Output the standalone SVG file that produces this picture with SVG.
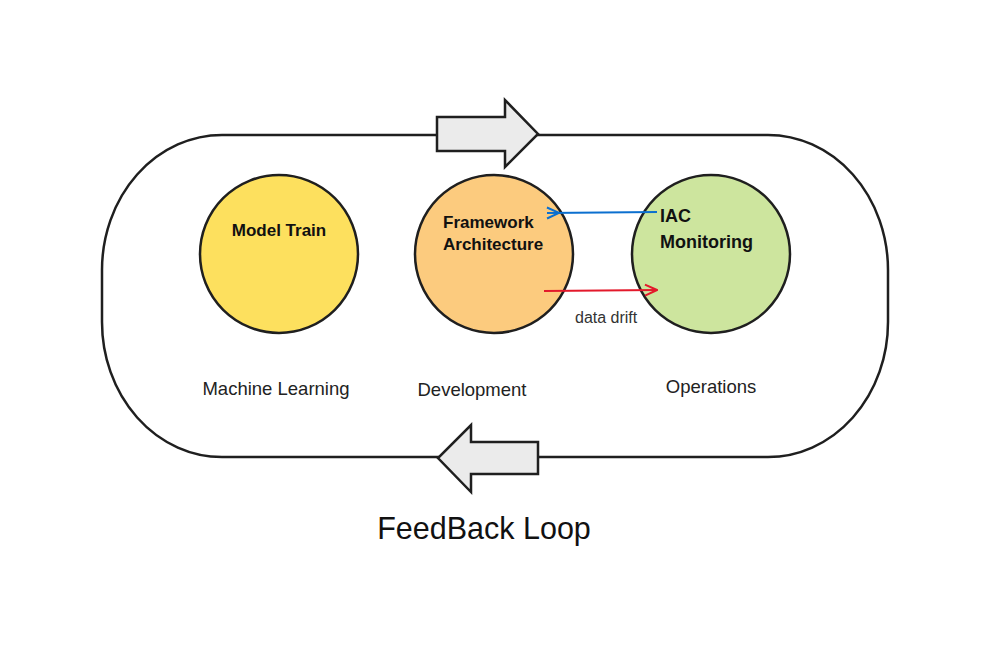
<svg xmlns="http://www.w3.org/2000/svg" width="989" height="665" viewBox="0 0 989 665">
<defs>
<style>
.stroke{stroke:#1f1f1f;stroke-width:2.5;}
.bold{font-family:"Liberation Sans",Arial,sans-serif;font-weight:bold;font-size:17px;fill:#111;}
.lbl{font-family:"Liberation Sans",Arial,sans-serif;font-size:18.5px;fill:#222;}
.big{font-family:"Liberation Sans",Arial,sans-serif;font-size:30.5px;fill:#111;}
.small{font-family:"Liberation Sans",Arial,sans-serif;font-size:16px;fill:#333;}
.bigarrow{fill:#ebebeb;stroke:#1f1f1f;stroke-width:2.5;stroke-linejoin:miter;}
</style>
<marker id="headBlue" viewBox="0 0 14 14" refX="13" refY="7" markerWidth="14" markerHeight="14" markerUnits="userSpaceOnUse" orient="auto">
<path d="M13,1.5 L1,7 L13,12.5" fill="none" stroke="#0b6fcf" stroke-width="2"/>
</marker>
<marker id="headRed" viewBox="0 0 14 14" refX="13" refY="7" markerWidth="14" markerHeight="14" markerUnits="userSpaceOnUse" orient="auto">
<path d="M1,1.5 L13,7 L1,12.5" fill="none" stroke="#e3192b" stroke-width="2"/>
</marker>
</defs>
<rect width="989" height="665" fill="#ffffff"/>
<g id="loop">
<rect x="102" y="135" width="786" height="322" rx="120" ry="135" fill="none" class="stroke"/>
</g>
<g id="arrow-top">
<polygon class="bigarrow" points="437,117 505,117 505,100 538,134 505,167 505,151 437,151"/>
</g>
<g id="arrow-bottom">
<polygon class="bigarrow" points="538,442 471,442 471,425 438,458 471,492 471,474 538,474"/>
</g>
<g id="model-train">
<circle cx="279" cy="254" r="79" fill="#fde05e" class="stroke"/>
<text x="279" y="236" text-anchor="middle" class="bold">Model Train</text>
</g>
<g id="framework-architecture">
<circle cx="494" cy="254" r="79" fill="#fccb7e" class="stroke"/>
<text x="443" y="228" class="bold">Framework</text>
<text x="443" y="250" class="bold">Architecture</text>
</g>
<g id="iac-monitoring">
<circle cx="711" cy="254" r="79" fill="#cde59e" class="stroke"/>
<text x="660" y="222" class="bold" style="font-size:18px">IAC</text>
<text x="660" y="248" class="bold" style="font-size:18px">Monitoring</text>
</g>
<g id="connectors">
<line x1="657" y1="212" x2="547" y2="213" stroke="#0b6fcf" stroke-width="2" marker-end="url(#headBlue)"/>
<line x1="544" y1="291" x2="657" y2="290" stroke="#e3192b" stroke-width="2" marker-end="url(#headRed)"/>
</g>
<g id="labels">
<text x="575" y="323" class="small">data drift</text>
<text x="276" y="395" text-anchor="middle" class="lbl">Machine Learning</text>
<text x="472" y="396" text-anchor="middle" class="lbl">Development</text>
<text x="711" y="393" text-anchor="middle" class="lbl">Operations</text>
<text x="484" y="539" text-anchor="middle" class="big">FeedBack Loop</text>
</g>
</svg>
